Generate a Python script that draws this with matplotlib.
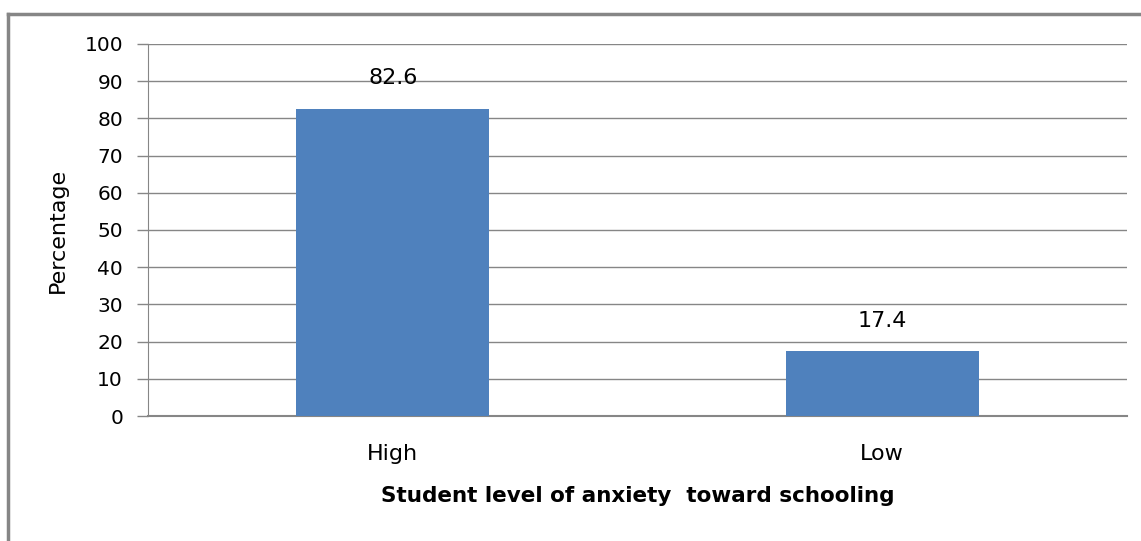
import matplotlib
matplotlib.use("Agg")
import matplotlib.pyplot as plt
from matplotlib.lines import Line2D

categories = ["High", "Low"]
values = [82.6, 17.4]
yticks = [0, 10, 20, 30, 40, 50, 60, 70, 80, 90, 100]

W, H = 1141, 541
fig = plt.figure(figsize=(W / 100, H / 100), dpi=100)
ax = fig.add_axes([148 / W, 1 - 416 / H, (1127 - 148) / W, (416 - 44) / H])

bar_color = "#4F81BD"
grid_color = "#868686"
x = list(range(len(categories)))
ax.bar(x, values, width=0.395, color=bar_color, zorder=3)
for xi, v in zip(x, values):
    ax.text(xi, v + 8.2, f"{v}", ha="center", va="center", fontsize=16, color="#000000")

ax.set_xlim(-0.5, len(categories) - 0.5)
ax.set_ylim(0, 100)
ax.set_yticks(yticks)
ax.set_yticklabels([str(t) for t in yticks], fontsize=14.5)
ax.set_xticks(x)
ax.set_xticklabels(categories, fontsize=16)
ax.tick_params(axis="x", length=0, pad=20)
ax.tick_params(axis="y", length=8, width=1, color=grid_color, pad=10)
ax.yaxis.grid(True, color=grid_color, linewidth=1.0, zorder=0)
for s in ["top", "right"]:
    ax.spines[s].set_visible(False)
ax.spines["left"].set_color(grid_color)
ax.spines["bottom"].set_color(grid_color)
ax.spines["bottom"].set_linewidth(1.5)

ax.set_ylabel("Percentage", fontsize=16, labelpad=12)
ax.set_xlabel("Student level of anxiety  toward schooling", fontsize=15.5,
              fontweight="bold", labelpad=16)

# outer chart border
bx0, by0 = 8 / W, 1 - 14 / H
fig.add_artist(Line2D([bx0, 1.0], [by0, by0], transform=fig.transFigure, color=grid_color, linewidth=2.5))
fig.add_artist(Line2D([bx0, bx0], [by0, 0.0], transform=fig.transFigure, color=grid_color, linewidth=2.5))

fig.savefig("out.png", dpi=100)
